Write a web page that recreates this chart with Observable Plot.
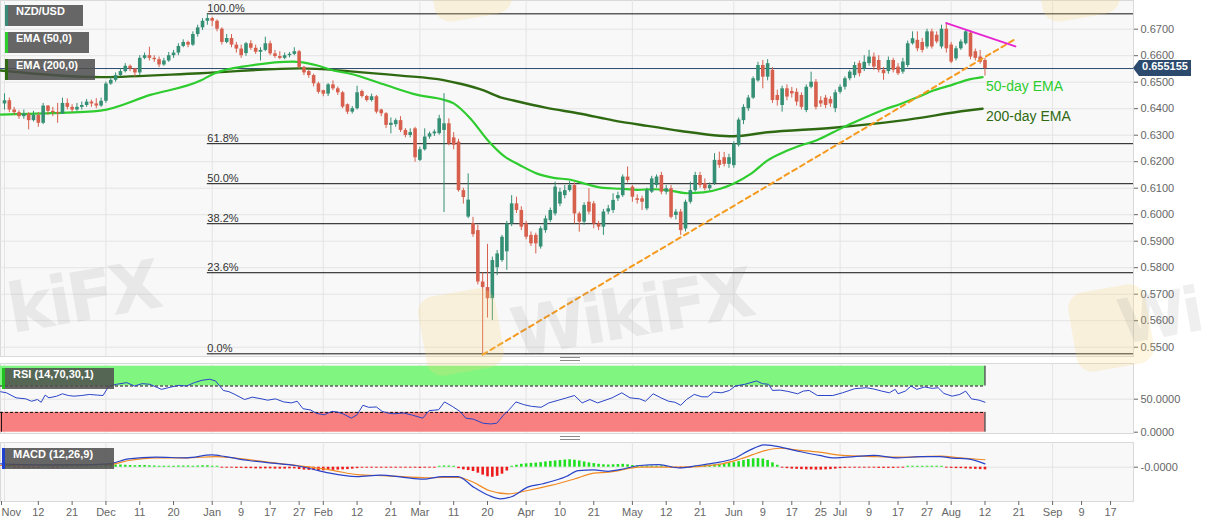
<!DOCTYPE html>
<html><head><meta charset="utf-8">
<script src="https://cdn.jsdelivr.net/npm/d3@7"></script>
<script src="https://cdn.jsdelivr.net/npm/@observablehq/plot@0.6"></script>
<style>
html,body{margin:0;padding:0;background:#fff;}
#wrap{position:relative;width:1207px;height:526px;overflow:hidden;font-family:"Liberation Sans",Arial,sans-serif;}
.panel{position:absolute;left:0;}
.panel svg{overflow:visible;display:block;}
.lbl{position:absolute;left:5px;height:21px;line-height:21px;background:rgba(78,78,78,0.86);color:#fff;font:bold 11px "Liberation Sans",Arial,sans-serif;padding-left:8px;box-sizing:border-box;border-left:3px solid #3a8a78;white-space:nowrap;}
.wm{position:absolute;font:bold 68px/1 "DejaVu Sans",sans-serif;color:rgba(120,120,120,0.12);transform:rotate(-10deg);transform-origin:left bottom;letter-spacing:-4px;white-space:nowrap;}
.logo{position:absolute;width:78px;height:80px;border-radius:16px;background:rgba(250,215,120,0.22);transform:rotate(-10deg);}
.split{position:absolute;width:20px;height:2px;border-top:1px solid #8a8a8a;border-bottom:1px solid #8a8a8a;}
#tag{position:absolute;left:1139px;top:60px;width:52px;height:16px;line-height:16px;background:#2c4a6e;color:#fff;font:bold 11px "Liberation Sans",Arial,sans-serif;text-align:center;}
#tagArrow{position:absolute;left:1133px;top:60px;width:0;height:0;border-top:8px solid transparent;border-bottom:8px solid transparent;border-right:6px solid #2c4a6e;}
</style>
</head><body>
<div id="wrap">
  <div id="main" class="panel" style="top:0px"></div>
  <div id="rsi" class="panel" style="top:360px"></div>
  <div id="macd" class="panel" style="top:439px"></div>

  <div class="logo" style="left:422px;top:292px"></div>
  <div class="logo" style="left:1072px;top:288px"></div>
  <div class="logo" style="left:430px;top:-62px"></div>
  <div class="logo" style="left:1038px;top:-62px"></div>
  <div class="wm" style="left:14px;top:276px">kiFX</div>
  <div class="wm" style="left:518px;top:300px">WikiFX</div>
  <div class="wm" style="left:1124px;top:292px;font-size:62px">Wi</div>

  <div class="lbl" style="top:5px;width:78px;border-left-color:#3a8a78">NZD/USD</div>
  <div class="lbl" style="top:32px;width:84px;border-left-color:#2ecc2e">EMA (50,0)</div>
  <div class="lbl" style="top:59px;width:90px;border-left-color:#2f6a12">EMA (200,0)</div>
  <div class="lbl" style="top:368px;left:2px;width:112px;border-left-color:#1fc01f">RSI (14,70,30,1)</div>
  <div class="lbl" style="top:448px;left:2px;width:112px;border-left-color:#2040d0">MACD (12,26,9)</div>
  <div class="split" style="left:560px;top:357px"></div>
  <div class="split" style="left:560px;top:436px"></div>
  <div id="tagArrow"></div>
  <div id="tag">0.655155</div>
</div>
<script>
// ---------- DATA ----------
const startDate = "2019-11-01";
const open = [0.6418,0.6430,0.6395,0.6385,0.6370,0.6380,0.6355,0.6375,0.6345,0.6410,
0.6390,0.6385,0.6380,0.6420,0.6405,0.6395,0.6405,0.6412,0.6425,0.6418,
0.6410,0.6428,0.6493,0.6507,0.6525,0.6540,0.6560,0.6550,0.6535,0.6590,
0.6600,0.6590,0.6585,0.6565,0.6580,0.6600,0.6610,0.6635,0.6650,0.6640,
0.6680,0.6705,0.6730,0.6740,0.6730,0.6700,0.6650,0.6665,0.6640,0.6625,
0.6608,0.6645,0.6628,0.6613,0.6620,0.6645,0.6607,0.6597,0.6590,0.6600,
0.6605,0.6615,0.6556,0.6540,0.6525,0.6494,0.6468,0.6455,0.6490,0.6475,
0.6460,0.6415,0.6387,0.6400,0.6465,0.6446,0.6431,0.6445,0.6395,0.6381,
0.6337,0.6340,0.6355,0.6318,0.6299,0.6324,0.6205,0.6245,0.6293,0.6305,
0.6306,0.6318,0.6343,0.6290,0.6274,0.6091,0.5991,0.5966,0.5940,0.5746,
0.5725,0.5683,0.5800,0.5827,0.5860,0.5965,0.6041,0.6016,0.5965,0.5922,
0.5922,0.5878,0.5940,0.5978,0.6003,0.6040,0.6072,0.6091,0.6110,0.6003,
0.5972,0.6047,0.6041,0.5965,0.5953,0.6010,0.6016,0.6060,0.6072,0.6142,
0.6104,0.6060,0.6060,0.6022,0.6085,0.6110,0.6148,0.6085,0.6098,0.5997,
0.6010,0.5946,0.6047,0.6091,0.6148,0.6117,0.6098,0.6117,0.6205,0.6215,
0.6190,0.6185,0.6262,0.6355,0.6400,0.6440,0.6505,0.6563,0.6519,0.6545,
0.6450,0.6412,0.6475,0.6465,0.6462,0.6450,0.6393,0.6481,0.6500,0.6430,
0.6440,0.6435,0.6400,0.6462,0.6481,0.6513,0.6525,0.6570,0.6550,0.6570,
0.6595,0.6582,0.6545,0.6540,0.6582,0.6557,0.6538,0.6563,0.6645,0.6658,
0.6650,0.6633,0.6690,0.6677,0.6633,0.6700,0.6640,0.6588,0.6626,0.6645,
0.6685,0.6615,0.6595,0.6582];
const high = [0.6456,0.6440,0.6405,0.6392,0.6395,0.6385,0.6390,0.6385,0.6420,0.6412,
0.6405,0.6420,0.6440,0.6437,0.6415,0.6420,0.6425,0.6435,0.6432,0.6438,
0.6440,0.6500,0.6520,0.6535,0.6552,0.6570,0.6565,0.6552,0.6600,0.6610,
0.6632,0.6600,0.6595,0.6590,0.6612,0.6620,0.6645,0.6660,0.6655,0.6690,
0.6715,0.6740,0.6756,0.6745,0.6735,0.6705,0.6680,0.6680,0.6650,0.6640,
0.6650,0.6657,0.6640,0.6630,0.6670,0.6655,0.6620,0.6615,0.6610,0.6612,
0.6630,0.6620,0.6560,0.6545,0.6530,0.6500,0.6470,0.6495,0.6505,0.6482,
0.6465,0.6418,0.6408,0.6485,0.6470,0.6450,0.6455,0.6450,0.6398,0.6385,
0.6365,0.6362,0.6370,0.6325,0.6324,0.6330,0.6255,0.6324,0.6312,0.6320,
0.6375,0.6457,0.6362,0.6310,0.6285,0.6100,0.6154,0.5990,0.5960,0.5780,
0.5888,0.5840,0.5865,0.5922,0.5975,0.6072,0.6066,0.6030,0.5975,0.5935,
0.5930,0.5955,0.5995,0.6025,0.6123,0.6100,0.6110,0.6125,0.6120,0.6010,
0.6045,0.6098,0.6050,0.5975,0.6020,0.6035,0.6079,0.6085,0.6150,0.6180,
0.6110,0.6075,0.6070,0.6100,0.6145,0.6150,0.6160,0.6110,0.6110,0.6020,
0.6020,0.6055,0.6123,0.6160,0.6160,0.6135,0.6120,0.6230,0.6236,0.6235,
0.6228,0.6275,0.6365,0.6415,0.6450,0.6520,0.6575,0.6582,0.6585,0.6555,
0.6470,0.6485,0.6490,0.6480,0.6475,0.6460,0.6490,0.6538,0.6510,0.6445,
0.6450,0.6445,0.6470,0.6490,0.6520,0.6545,0.6575,0.6580,0.6600,0.6620,
0.6610,0.6600,0.6555,0.6595,0.6590,0.6570,0.6590,0.6655,0.6690,0.6690,
0.6665,0.6700,0.6700,0.6690,0.6715,0.6723,0.6650,0.6635,0.6660,0.6698,
0.6695,0.6625,0.6620,0.6590];
const low = [0.6395,0.6385,0.6375,0.6360,0.6360,0.6320,0.6350,0.6330,0.6340,0.6375,
0.6370,0.6345,0.6378,0.6395,0.6385,0.6390,0.6395,0.6405,0.6405,0.6400,
0.6405,0.6420,0.6488,0.6500,0.6520,0.6535,0.6540,0.6520,0.6525,0.6585,
0.6580,0.6575,0.6555,0.6560,0.6575,0.6590,0.6600,0.6630,0.6630,0.6635,
0.6670,0.6695,0.6715,0.6710,0.6690,0.6640,0.6645,0.6630,0.6610,0.6590,
0.6598,0.6620,0.6605,0.6580,0.6615,0.6600,0.6590,0.6585,0.6585,0.6592,
0.6600,0.6550,0.6525,0.6515,0.6482,0.6455,0.6445,0.6446,0.6468,0.6450,
0.6400,0.6378,0.6380,0.6395,0.6440,0.6425,0.6425,0.6380,0.6370,0.6325,
0.6305,0.6330,0.6310,0.6290,0.6290,0.6198,0.6200,0.6240,0.6285,0.6295,
0.6300,0.6008,0.6260,0.6245,0.6085,0.6040,0.5985,0.5915,0.5735,0.5469,
0.5610,0.5601,0.5770,0.5820,0.5790,0.5955,0.6005,0.5940,0.5905,0.5880,
0.5852,0.5870,0.5930,0.5970,0.5995,0.6030,0.6060,0.6085,0.5965,0.5934,
0.5960,0.6000,0.5947,0.5940,0.5922,0.6000,0.6005,0.6050,0.6065,0.6120,
0.6047,0.6040,0.6016,0.6015,0.6080,0.6100,0.6075,0.6075,0.5984,0.5980,
0.5922,0.5935,0.6040,0.6085,0.6100,0.6090,0.6090,0.6110,0.6175,0.6180,
0.6175,0.6175,0.6255,0.6340,0.6390,0.6435,0.6500,0.6475,0.6505,0.6420,
0.6410,0.6387,0.6430,0.6440,0.6410,0.6395,0.6385,0.6475,0.6395,0.6405,
0.6400,0.6405,0.6385,0.6455,0.6470,0.6505,0.6515,0.6520,0.6540,0.6560,
0.6545,0.6535,0.6507,0.6530,0.6535,0.6525,0.6530,0.6555,0.6640,0.6615,
0.6610,0.6625,0.6625,0.6645,0.6625,0.6610,0.6570,0.6580,0.6620,0.6640,
0.6585,0.6580,0.6568,0.6523];
const close = [0.6430,0.6395,0.6385,0.6370,0.6380,0.6355,0.6375,0.6345,0.6410,0.6390,
0.6385,0.6380,0.6420,0.6405,0.6395,0.6405,0.6412,0.6425,0.6418,0.6410,
0.6428,0.6493,0.6507,0.6525,0.6540,0.6560,0.6550,0.6535,0.6590,0.6600,
0.6590,0.6585,0.6565,0.6580,0.6600,0.6610,0.6635,0.6650,0.6640,0.6680,
0.6705,0.6730,0.6740,0.6730,0.6700,0.6650,0.6665,0.6640,0.6625,0.6600,
0.6645,0.6628,0.6613,0.6620,0.6645,0.6607,0.6597,0.6590,0.6600,0.6605,
0.6615,0.6556,0.6535,0.6525,0.6494,0.6462,0.6455,0.6490,0.6475,0.6460,
0.6406,0.6387,0.6400,0.6460,0.6446,0.6431,0.6445,0.6387,0.6381,0.6337,
0.6345,0.6355,0.6318,0.6299,0.6310,0.6215,0.6245,0.6293,0.6305,0.6312,
0.6362,0.6343,0.6267,0.6262,0.6091,0.6065,0.6055,0.5925,0.5746,0.5725,
0.5683,0.5827,0.5852,0.5915,0.5965,0.6041,0.6016,0.5953,0.5915,0.5890,
0.5890,0.5947,0.5984,0.6016,0.6104,0.6085,0.6091,0.6110,0.6003,0.5972,
0.6035,0.6010,0.5965,0.5953,0.6010,0.6022,0.6054,0.6072,0.6142,0.6129,
0.6066,0.6054,0.6047,0.6091,0.6135,0.6142,0.6085,0.6098,0.5990,0.6010,
0.5940,0.6047,0.6091,0.6148,0.6110,0.6098,0.6110,0.6205,0.6186,0.6190,
0.6215,0.6267,0.6357,0.6405,0.6440,0.6513,0.6563,0.6519,0.6570,0.6431,
0.6431,0.6475,0.6444,0.6456,0.6425,0.6405,0.6481,0.6500,0.6405,0.6418,
0.6412,0.6418,0.6460,0.6481,0.6513,0.6538,0.6563,0.6532,0.6575,0.6595,
0.6557,0.6545,0.6532,0.6582,0.6545,0.6532,0.6576,0.6645,0.6664,0.6626,
0.6620,0.6690,0.6633,0.6652,0.6700,0.6626,0.6576,0.6626,0.6652,0.6690,
0.6595,0.6590,0.6575,0.655155];
const lastPrice = 0.655155;

const ema50Idx = [-0.8,9.5,19.9,30.2,40.6,43.3,50.9,59.8,61.3,64.8,68.1,71.6,78.5,85.5,90.9,93,96.5,100,103.3,106.8,110.4,113.7,117.2,120.7,124,127.5,131,134.4,137.9,141.4,144.7,148.2,150.9,154.5,158,161.3,164.8,168.3,171.6,175.2,178.7,182,185.5,189,192.3,195.9,199.4,202.5];
const ema50Val = [0.6378,0.6383,0.6393,0.6452,0.6506,0.6532,0.6563,0.6578,0.6576,0.6563,0.6544,0.6532,0.6492,0.6452,0.6434,0.6420,0.6362,0.6282,0.6223,0.6186,0.6154,0.6139,0.6132,0.6114,0.6101,0.6098,0.6094,0.6096,0.6091,0.6081,0.6084,0.6098,0.6117,0.6154,0.6205,0.6236,0.6261,0.6282,0.6311,0.6343,0.6371,0.6396,0.6418,0.6443,0.6469,0.6488,0.6509,0.6519];
const ema200Idx = [-0.8,19.9,40.6,61.3,71.6,82,90.9,94.4,99.2,102.7,105.4,112,119.3,126,133.1,140,146.8,150.9,158,171.6,185.5,199.4,202.5];
const ema200Val = [0.6544,0.6519,0.6534,0.6552,0.6541,0.6525,0.6508,0.6494,0.6469,0.6443,0.6431,0.6404,0.6381,0.6356,0.6335,0.6316,0.6300,0.6296,0.6311,0.6328,0.6355,0.6393,0.6400];

const fibLevels = [0.6758,0.6268,0.6117,0.5966,0.5781,0.5475];
const fibLabels = ["100.0%","61.8%","50.0%","38.2%","23.6%","0.0%"];
const fibStartIdx = 42;

const trendIdx = [99,209.5];
const trendVal = [0.5472,0.6665];
const resIdx = [195,209.3];
const resVal = [0.6723,0.6635];

const priceTicks = [0.55,0.56,0.57,0.58,0.59,0.60,0.61,0.62,0.63,0.64,0.65,0.66,0.67];

const rsiIdx = [-0.8,0.4,2.4,4.4,5.6,6.8,7.6,8.4,9.2,10.8,12.0,13.2,14.4,16.0,17.6,19.2,20.4,21.6,23.2,25.3,26.9,28.5,30.1,32.5,34.5,36.1,37.7,39.3,40.9,42.5,43.7,45.3,46.5,47.7,49.7,51.3,52.9,54.5,56.1,57.8,59.4,60.6,61.8,63.4,64.6,66.2,67.8,69.0,70.2,71.8,73.0,74.2,75.4,77.0,78.2,79.4,80.6,82.6,84.2,85.4,86.6,87.9,89.9,91.1,92.7,94.3,95.5,97.1,99.1,100.7,101.9,103.5,104.3,105.9,107.5,109.1,111.1,112.7,114.7,116.4,118.0,119.6,121.2,122.8,125.8,127.8,129.5,131.5,132.7,134.3,135.9,137.5,138.8,140.0,141.2,142.8,144.4,145.6,146.8,148.5,150.1,151.3,153.3,155.7,156.9,158.2,159.0,160.6,162.2,164.2,165.4,166.6,168.3,169.9,171.5,173.5,176.0,178.4,180.0,181.6,183.2,184.4,185.0,186.5,187.7,188.9,190.5,192.1,193.3,194.5,196.2,197.8,199.0,200.2,201.8,203.0];
const rsiVal = [61.3,59.7,52.1,50.5,46.9,49.5,45.4,56.2,52.1,54.6,58.2,55.6,54.6,55.6,57.2,56.2,55.6,70.0,72.6,75.1,70.0,73.6,72.6,64.9,68.5,71.0,70.0,75.1,78.7,80.3,77.7,63.3,61.3,57.2,49.5,53.1,51.0,48.5,50.5,45.9,44.4,46.9,35.6,33.6,28.5,26.4,31.5,30.5,27.4,21.3,26.4,40.8,37.7,38.2,31.5,29.0,27.9,29.0,26.4,23.8,21.3,32.6,34.1,45.9,39.2,31.5,21.3,19.7,13.5,12.5,13.5,27.4,32.6,45.9,41.8,39.2,37.7,44.4,48.5,52.1,55.6,44.4,49.5,44.4,52.1,59.7,52.1,50.5,46.9,58.2,52.1,46.9,45.4,40.8,49.5,57.2,53.6,53.6,60.8,59.7,63.3,70.0,72.6,77.7,73.6,72.6,63.3,63.8,61.8,58.2,62.3,63.3,55.6,55.6,55.6,59.7,65.9,67.4,65.4,62.3,59.7,64.9,58.2,62.3,70.0,64.9,68.5,66.4,67.4,58.7,54.6,57.2,62.3,50.5,48.5,45.4];
const rsiUpper = 70, rsiLower = 30;
const rsiTicks = [0,50];

const macdIdx = [-0.8,7.2,15.2,21.6,25.7,31.3,37.7,42.9,45.7,50.5,55.4,60.2,65,67.4,73,77.8,82.6,86.7,90.7,93.9,97.1,100.3,102.7,105.1,108.3,111.5,116.3,118.8,122,125,127.4,131.5,135.5,139.6,143.6,146.8,150.9,154.1,157.4,159,163.8,168.7,171.9,175.9,180,184.8,189.7,193.7,196.2,199.4,203];
const macdVal = [0.0014,0.0010,0.0010,0.0014,0.0035,0.0042,0.0039,0.0051,0.0044,0.0028,0.0017,0.0007,-0.0014,-0.0025,-0.0039,-0.0033,-0.0042,-0.0050,-0.0039,-0.0039,-0.0083,-0.0118,-0.0132,-0.0122,-0.0083,-0.0069,-0.0039,-0.0014,-0.0011,-0.0017,-0.0010,0.0007,0.0011,-0.0003,0.0007,0.0017,0.0035,0.0069,0.0093,0.0090,0.0069,0.0049,0.0039,0.0044,0.0049,0.0039,0.0044,0.0044,0.0038,0.0035,0.0014];
const signalIdx = [-0.8,21.6,25.7,31.3,37.7,43.7,47.3,55.4,63.4,68.2,73,79.4,87.5,93.9,97.1,100.3,104.3,108.3,113.1,118,122,125,131.5,139.6,147.7,152.5,157.4,160.6,163.8,168.7,173.5,180,184.8,189.7,193.7,197.8,203];
const signalVal = [0.0007,0.0011,0.0028,0.0039,0.0039,0.0044,0.0039,0.0019,0.0000,-0.0014,-0.0031,-0.0036,-0.0044,-0.0042,-0.0063,-0.0097,-0.0111,-0.0097,-0.0076,-0.0049,-0.0025,-0.0021,0.0000,0.0000,0.0011,0.0035,0.0069,0.0079,0.0072,0.0063,0.0049,0.0044,0.0042,0.0044,0.0046,0.0039,0.0031];
const histVal = [
0.0004,0.0004,-0.0004,-0.0004,-0.0004,-0.0004,-0.0004,-0.0004,0.0004,0.0004,-0.0004,-0.0004,0.0004,0.0004,0.0004,0.0004,0.0004,0.0004,0.0004,0.0004,0.0004,
0.0006,0.0008,0.0009,0.0009,0.0008,0.0007,0.0006,0.0007,0.0007,0.0006,0.0005,0.0004,0.0004,0.0004,0.0004,0.0005,0.0005,0.0005,0.0004,0.0005,0.0006,0.0006,
0.0004,0.0004,-0.0004,-0.0004,
-0.0004,-0.0005,-0.0005,-0.0006,-0.0006,-0.0007,-0.0007,-0.0007,-0.0007,-0.0008,-0.0008,-0.0008,-0.0007,-0.0007,-0.0010,-0.0012,-0.0013,
-0.0014,-0.0015,-0.0015,-0.0014,-0.0013,-0.0012,-0.0011,-0.0010,
-0.0008,-0.0006,-0.0004,-0.0004,-0.0004,-0.0004,-0.0004,-0.0004,-0.0004,-0.0004,-0.0004,-0.0004,-0.0004,-0.0004,-0.0005,-0.0004,-0.0004,-0.0004,
0.0004,0.0005,0.0005,0.0004,
-0.0006,-0.0011,-0.0014,-0.0018,-0.0025,
-0.0033,-0.0040,-0.0042,-0.0038,-0.0029,-0.0016,
0.0004,0.0008,0.0012,0.0014,0.0016,0.0017,0.0019,0.0022,0.0024,0.0026,0.0028,0.0030,0.0031,0.0029,0.0026,0.0022,0.0018,0.0015,0.0012,0.0010,0.0009,
0.0010,0.0011,0.0012,0.0010,0.0007,0.0005,
0.0004,0.0004,0.0004,0.0004,0.0005,0.0004,-0.0004,-0.0005,
-0.0006,-0.0005,-0.0004,
0.0004,0.0005,0.0006,0.0008,0.0010,0.0012,0.0014,0.0016,0.0019,0.0023,0.0028,0.0032,0.0035,0.0036,0.0034,0.0028,0.0018,0.0008,
-0.0004,-0.0006,-0.0008,-0.0009,-0.0010,-0.0011,-0.0011,-0.0012,-0.0012,-0.0011,-0.0010,-0.0008,-0.0006,-0.0005,-0.0004,
-0.0004,-0.0004,-0.0004,-0.0004,-0.0004,
-0.0005,-0.0005,-0.0005,-0.0005,-0.0004,-0.0004,
0.0004,0.0004,0.0004,0.0004,0.0004,0.0004,0.0004,0.0004,
-0.0004,-0.0005,-0.0006,-0.0006,-0.0007,-0.0008,-0.0009,-0.0010,-0.0011];
const macdTicks = [0];
const macdTickLabels = ["-0.0000"];

const tickDates = ["2019-11-01","2019-11-12","2019-11-21","2019-12-01","2019-12-11","2019-12-20","2020-01-01","2020-01-09","2020-01-17","2020-01-27","2020-02-01","2020-02-12","2020-02-21","2020-03-01","2020-03-11","2020-03-20","2020-04-01","2020-04-10","2020-04-21","2020-05-01","2020-05-12","2020-05-21","2020-06-01","2020-06-09","2020-06-17","2020-06-25","2020-07-01","2020-07-09","2020-07-17","2020-07-27","2020-08-01","2020-08-12","2020-08-21","2020-09-01","2020-09-09","2020-09-17"];
const tickLabels = ["Nov","12","21","Dec","11","20","Jan","9","17","27","Feb","12","21","Mar","11","20","Apr","10","21","May","12","21","Jun","9","17","25","Jul","9","17","27","Aug","12","21","Sep","9","17"];
const monthLabels = ["Nov","Dec","Jan","Feb","Mar","Apr","May","Jun","Jul","Aug","Sep"];

// ---------- HELPERS ----------
const t0 = Date.parse(startDate + "T00:00:00Z");
function wdIndex(s){
  const t = Date.parse(s + "T00:00:00Z"); let n = 0;
  for (let d = t0; d < t; d += 864e5){ const w = new Date(d).getUTCDay(); if (w !== 0 && w !== 6) n++; }
  return n;
}
const tickIdx = tickDates.map(wdIndex);
const labelOf = new Map(tickIdx.map((t,k)=>[t, tickLabels[k]]));
const monthIdx = tickIdx.filter((t,k)=>monthLabels.includes(tickLabels[k]));
const firstTick = tickIdx.slice(0,1), otherTicks = tickIdx.slice(1);

const lastIdx = close.length - 1;
const X0 = -0.83, X1 = 233.75;
const W = 1207, MR = 74;
const UP = "#358f74", DN = "#d6604d";
const FONT = "'Liberation Sans', Arial, sans-serif";

const candles = open.map((o,i)=>({i, o, h:high[i], l:low[i], c:close[i], col: close[i] >= o ? UP : DN}));
const pts = (xs, ys) => xs.map((x,k)=>({x, y:ys[k]}));
const ema50 = pts(ema50Idx, ema50Val), ema200 = pts(ema200Idx, ema200Val);
const trend = pts(trendIdx, trendVal), res = pts(resIdx, resVal);
const rsi = pts(rsiIdx, rsiVal);
const macd = pts(macdIdx, macdVal), signal = pts(signalIdx, signalVal);
const hist = histVal.map((v,i)=>({i, v, col: v >= 0 ? "#1fe01f" : "#ee1b1b"}));
const fib = fibLevels.map((v,k)=>({v, label: fibLabels[k]}));

const base = {width: W, marginLeft: 0, marginRight: MR,
  style: {background: "transparent", fontFamily: FONT, fontSize: "11px", overflow: "visible"}};

// ---------- MAIN ----------
const main = Plot.plot({...base, height: 356, marginTop: 0, marginBottom: 0,
  x: {domain: [X0, X1], axis: null},
  y: {domain: [0.54649, 0.68083]},
  marks: [
    Plot.frame({fill: "#f8f8f8", stroke: "#d9d9d9"}),
    Plot.ruleY(priceTicks, {stroke: "#e4e4e4"}),
    Plot.ruleX(monthIdx, {stroke: "#e4e4e4"}),
    Plot.ruleY(fib, {y: "v", x1: fibStartIdx, x2: X1, stroke: "#111", strokeWidth: 1}),
    Plot.text(fib, {y: "v", x: fibStartIdx, text: "label", textAnchor: "start", lineAnchor: "bottom", dy: -2, fill: "#333", fontSize: 11}),
    Plot.ruleY([lastPrice], {stroke: "#2c4a6e", strokeWidth: 1}),
    Plot.line(ema200, {x: "x", y: "y", stroke: "#2f6a12", strokeWidth: 2.4, curve: "monotone-x"}),
    Plot.line(ema50, {x: "x", y: "y", stroke: "#2ecc2e", strokeWidth: 2.2, curve: "monotone-x"}),
    Plot.ruleX(candles, {x: "i", y1: "l", y2: "h", stroke: "col", strokeWidth: 1}),
    Plot.ruleX(candles, {x: "i", y1: "o", y2: "c", stroke: "col", strokeWidth: 3.6}),
    Plot.line(trend, {x: "x", y: "y", stroke: "#f59a1e", strokeWidth: 2, strokeDasharray: "5,4"}),
    Plot.line(res, {x: "x", y: "y", stroke: "#e626d0", strokeWidth: 2}),
    Plot.text(["50-day EMA"], {x: lastIdx + 0.2, y: 0.6484, text: d => d, textAnchor: "start", fill: "#2ecc2e", fontSize: 14}),
    Plot.text(["200-day EMA"], {x: lastIdx + 0.2, y: 0.6371, text: d => d, textAnchor: "start", fill: "#2f6a12", fontSize: 14}),
    Plot.axisY(priceTicks, {anchor: "right", tickFormat: d3.format(".4f"), tickSize: 4, tickPadding: 3, fontSize: 11, color: "#666"})
  ]});
document.getElementById("main").appendChild(main);

// ---------- RSI ----------
const rsiPlot = Plot.plot({...base, height: 78, marginTop: 3, marginBottom: 5,
  x: {domain: [X0, X1], axis: null},
  y: {domain: [-1.97, 104.1]},
  marks: [
    Plot.frame({fill: "#f8f8f8", stroke: "#d9d9d9"}),
    Plot.ruleY([50], {stroke: "#e2e2e2"}),
    Plot.ruleX(monthIdx, {stroke: "#e4e4e4"}),
    Plot.rect([{a: rsiUpper, b: 100}], {x1: X0, x2: lastIdx, y1: "a", y2: "b", fill: "#80f680"}),
    Plot.rect([{a: 0, b: rsiLower}], {x1: X0, x2: lastIdx, y1: "a", y2: "b", fill: "#f88080"}),
    Plot.ruleY([rsiUpper, rsiLower], {x1: X0, x2: lastIdx, stroke: "#111", strokeDasharray: "3,2"}),
    Plot.ruleX([lastIdx], {y1: rsiUpper, y2: 100, stroke: "#111"}),
    Plot.ruleX([lastIdx], {y1: 0, y2: rsiLower, stroke: "#111"}),
    Plot.ruleX([X0 + 0.2], {y1: 0, y2: rsiLower, stroke: "#111"}),
    Plot.line(rsi, {x: "x", y: "y", stroke: "#2a44c8", strokeWidth: 1}),
    Plot.axisY(rsiTicks, {anchor: "right", tickFormat: d3.format(".4f"), tickSize: 4, tickPadding: 3, fontSize: 11, color: "#666"})
  ]});
document.getElementById("rsi").appendChild(rsiPlot);

// ---------- MACD ----------
const macdPlot = Plot.plot({...base, height: 87, marginTop: 3, marginBottom: 25,
  x: {domain: [X0, X1]},
  y: {domain: [-0.01429, 0.01029]},
  marks: [
    Plot.frame({fill: "#f8f8f8", stroke: "#d9d9d9"}),
    Plot.ruleY(macdTicks, {stroke: "#e2e2e2"}),
    Plot.ruleX(monthIdx, {stroke: "#e4e4e4"}),
    Plot.ruleX(hist, {x: "i", y1: 0, y2: "v", stroke: "col", strokeWidth: 2.6}),
    Plot.line(signal, {x: "x", y: "y", stroke: "#f08a24", strokeWidth: 1.2, curve: "monotone-x"}),
    Plot.line(macd, {x: "x", y: "y", stroke: "#2a44c8", strokeWidth: 1.2, curve: "monotone-x"}),
    Plot.axisY(macdTicks, {anchor: "right", tickFormat: d => macdTickLabels[macdTicks.indexOf(d)], tickSize: 4, tickPadding: 3, fontSize: 11, color: "#666"}),
    Plot.axisX(otherTicks, {anchor: "bottom", tickFormat: d => labelOf.get(d), tickSize: 4, tickPadding: 3, fontSize: 11, color: "#666"}),
    Plot.axisX(firstTick, {anchor: "bottom", tickFormat: d => labelOf.get(d), tickSize: 4, tickPadding: 3, fontSize: 11, color: "#666", textAnchor: "start", dx: -3})
  ]});
document.getElementById("macd").appendChild(macdPlot);
</script>
</body></html>
